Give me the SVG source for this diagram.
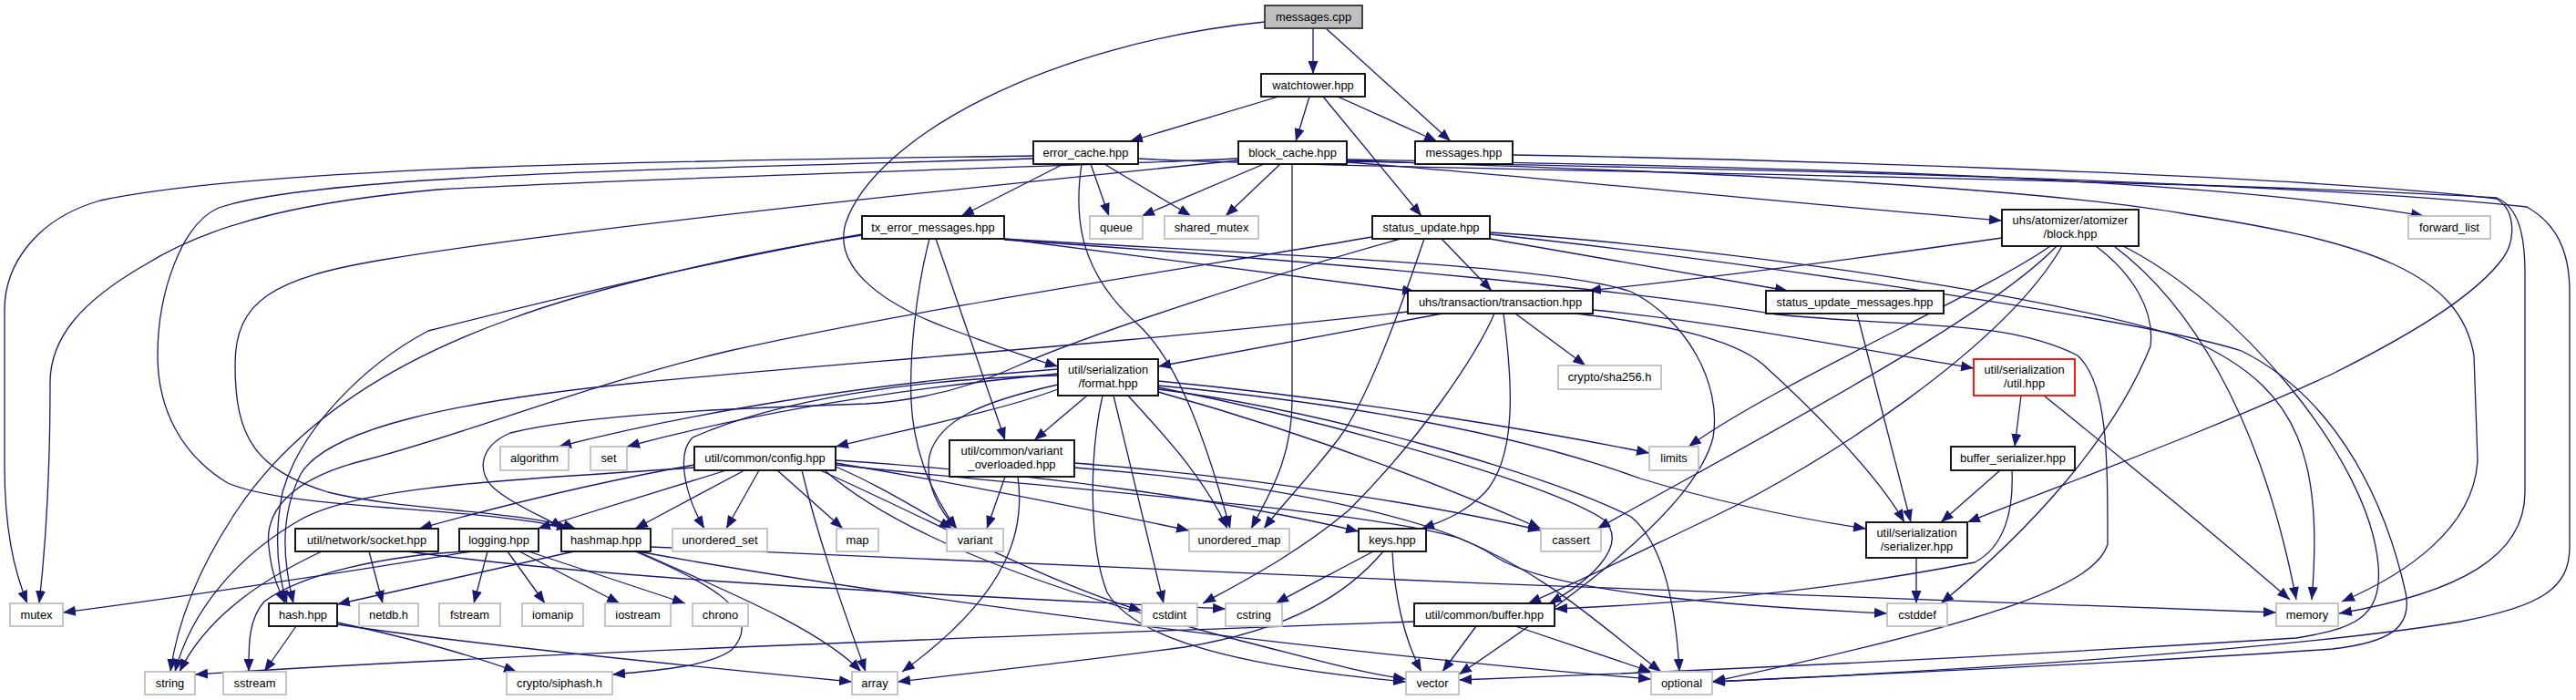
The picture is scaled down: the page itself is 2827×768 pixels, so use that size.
<svg xmlns="http://www.w3.org/2000/svg" width="2827" height="768" viewBox="0 0 2827 768">
<style>
.e{fill:none;stroke:#191970;stroke-width:1.3;marker-end:url(#ah)}
.n rect{fill:#fff;stroke:#000;stroke-width:1.8}
.s rect{fill:#fff;stroke:#bfbfbf;stroke-width:1.8}
.r rect{fill:#fff;stroke:#ff0000;stroke-width:1.8}
.root rect{fill:#bfbfbf;stroke:#333;stroke-width:1.8}
text{font-family:"Liberation Sans",Arial,sans-serif;font-size:12.9px;fill:#000;text-anchor:middle}
</style>
<defs>
<marker id="ah" viewBox="0 0 14 11" refX="14" refY="5.5" markerWidth="14" markerHeight="11" markerUnits="userSpaceOnUse" orient="auto">
<path d="M0,0 L14,5.5 L0,11 z" fill="#191970"/>
</marker>
</defs>
<rect width="2827" height="768" fill="#fff"/>
<g id="connectors">
<path class="e" d="M1441,31 L1441,81"/>
<path class="e" d="M1455,31 L1592,155"/>
<path class="e" d="M1388,24 C1150,48 960,150 928,245 C915,290 960,330 1040,360 C1090,378 1125,392 1161,402"/>
<path class="e" d="M1403,106 L1240,155"/>
<path class="e" d="M1437,106 L1422,155"/>
<path class="e" d="M1452,106 L1560,237"/>
<path class="e" d="M1468,106 L1577,155"/>
<path class="e" d="M1167,180 L1055,237"/>
<path class="e" d="M1197,180 L1217,237"/>
<path class="e" d="M1212,180 L1307,237"/>
<path class="e" d="M1187,180 C1178,240 1185,300 1250,357 C1290,395 1320,470 1350,580"/>
<path class="e" d="M1134,171 C800,176 300,180 110,220 C40,240 5,290 5,340 L5,510 C5,580 15,625 30,662"/>
<path class="e" d="M1134,174 C800,184 350,190 240,228 C200,245 173,320 173,390 C173,450 200,500 250,530 C320,560 520,555 625,580"/>
<path class="e" d="M1249,174 C1400,184 2400,195 2740,217 C2765,228 2771,260 2771,300 L2771,540 C2771,610 2700,650 2567,673"/>
<path class="e" d="M1387,180 L1253,237"/>
<path class="e" d="M1405,180 L1345,237"/>
<path class="e" d="M1418,180 L1418,440 C1418,500 1395,540 1373,580"/>
<path class="e" d="M1478,178 C1700,195 1950,222 2197,242"/>
<path class="e" d="M1478,175 C1900,182 2400,192 2660,237"/>
<path class="e" d="M1359,174 C1200,182 700,195 480,208 C350,220 240,240 160,290 C90,330 55,370 55,420 C55,520 50,600 43,662"/>
<path class="e" d="M1359,176 C1000,212 600,255 420,285 C300,305 258,330 258,400 C258,480 280,515 360,540 C440,560 570,560 632,580"/>
<path class="e" d="M1478,176 C1750,185 2200,200 2400,235 C2600,265 2700,300 2715,390 L2719,505 C2715,580 2640,630 2570,660"/>
<path class="e" d="M1478,177 C1900,185 2500,198 2773,227 C2805,245 2820,275 2820,320 L2820,600 C2820,645 2790,665 2700,682 C2500,715 2100,738 1879,748"/>
<path class="e" d="M1660,170 C1900,174 2500,190 2740,218 C2762,232 2760,265 2747,283 C2720,320 2660,360 2560,410 C2420,475 2280,525 2159,573"/>
<path class="e" d="M1582,262 L1637,319"/>
<path class="e" d="M1635,262 L1962,319"/>
<path class="e" d="M1563,262 C1540,330 1500,440 1470,480 C1440,520 1410,550 1387,580"/>
<path class="e" d="M1506,260 C1300,295 1000,340 800,385 C650,420 500,480 400,505 C320,525 290,560 295,600 C298,630 305,645 313,662"/>
<path class="e" d="M1537,262 C1400,300 1200,365 1120,400 C1060,428 1000,440 950,443 C800,448 640,455 560,475 C525,490 522,520 545,538 C570,558 600,568 618,580"/>
<path class="e" d="M1635,255 C1900,272 2300,330 2420,380 C2520,430 2550,500 2537,658"/>
<path class="e" d="M1635,257 C1900,285 2350,350 2460,385 C2570,440 2620,560 2640,650 C2648,690 2620,705 2560,712 C2300,730 2000,742 1879,748"/>
<path class="e" d="M1583,344 L1271,402"/>
<path class="e" d="M1640,344 C1620,390 1560,480 1480,560 C1420,610 1360,640 1320,662"/>
<path class="e" d="M1650,344 C1660,420 1665,500 1630,540 C1610,560 1590,570 1560,580"/>
<path class="e" d="M1663,344 L1740,401"/>
<path class="e" d="M1748,340 C1900,355 2050,385 2166,404"/>
<path class="e" d="M1730,344 C1820,355 1900,370 1935,400 C1990,450 2060,520 2090,573"/>
<path class="e" d="M1545,342 C1200,380 900,400 700,420 C500,440 360,470 330,520 C305,570 312,620 322,662"/>
<path class="e" d="M1507,605 C1470,625 1430,645 1400,662"/>
<path class="e" d="M1518,605 C1480,650 1420,690 1300,710 C1150,730 1050,740 985,748"/>
<path class="e" d="M1528,605 C1530,650 1540,700 1560,737"/>
<path class="e" d="M1620,687 L1583,737"/>
<path class="e" d="M1663,687 L1812,737"/>
<path class="e" d="M1552,682 C1200,695 600,715 214,740"/>
<path class="e" d="M1193,434 L1135,483"/>
<path class="e" d="M1161,422 C1080,440 1030,460 1020,500 C1015,530 1030,560 1050,580"/>
<path class="e" d="M1222,434 L1277,662"/>
<path class="e" d="M1210,434 C1195,500 1195,600 1215,650 C1250,710 1400,735 1543,748"/>
<path class="e" d="M1238,434 C1270,470 1320,520 1347,580"/>
<path class="e" d="M1271,430 C1450,480 1600,540 1691,580"/>
<path class="e" d="M1271,418 C1500,440 1700,475 1810,497"/>
<path class="e" d="M1271,423 C1450,440 1650,470 1800,525 C1900,555 1980,570 2048,580"/>
<path class="e" d="M1271,427 C1450,450 1700,520 1790,567 C1830,600 1840,680 1843,737"/>
<path class="e" d="M1271,425 C1450,460 1700,530 1760,570 C1790,600 1740,640 1700,662"/>
<path class="e" d="M1161,427 C1100,450 1000,470 917,490"/>
<path class="e" d="M1161,405 C950,420 750,455 613,490"/>
<path class="e" d="M1161,410 C950,430 800,460 688,490"/>
<path class="e" d="M1161,412 C1000,415 850,440 760,480 C740,500 755,550 773,580"/>
<path class="e" d="M1103,523 L1083,580"/>
<path class="e" d="M1117,523 C1125,580 1110,650 990,737"/>
<path class="e" d="M1179,508 C1400,525 1600,560 1691,582"/>
<path class="e" d="M1179,513 C1400,530 1580,570 1640,610 C1700,650 1900,665 2071,673"/>
<path class="e" d="M797,516 L590,580"/>
<path class="e" d="M817,516 L697,580"/>
<path class="e" d="M833,516 L797,580"/>
<path class="e" d="M853,516 L925,580"/>
<path class="e" d="M917,512 C960,530 1000,555 1045,580"/>
<path class="e" d="M917,508 C1050,530 1200,560 1305,582"/>
<path class="e" d="M917,505 C1150,520 1350,550 1491,583"/>
<path class="e" d="M762,510 C650,530 550,555 460,580"/>
<path class="e" d="M762,513 C600,525 400,530 330,570 C260,610 210,670 192,737"/>
<path class="e" d="M900,516 C1000,560 1150,640 1253,670"/>
<path class="e" d="M917,510 C1200,540 1500,560 1600,590 C1700,630 1760,690 1823,737"/>
<path class="e" d="M905,516 C1000,600 1200,660 1350,700 C1430,720 1490,738 1543,745"/>
<path class="e" d="M880,516 C900,600 930,680 950,737"/>
<path class="e" d="M405,605 L420,662"/>
<path class="e" d="M353,605 C300,630 230,670 197,737"/>
<path class="e" d="M447,605 C700,640 1100,655 1345,668"/>
<path class="e" d="M535,605 L520,662"/>
<path class="e" d="M557,605 L598,662"/>
<path class="e" d="M570,605 L680,662"/>
<path class="e" d="M580,605 L752,662"/>
<path class="e" d="M517,605 C400,625 200,655 69,672"/>
<path class="e" d="M510,605 C420,610 330,630 290,660 C272,680 273,710 273,737"/>
<path class="e" d="M630,605 L370,663"/>
<path class="e" d="M697,605 C780,640 840,673 803,713 C780,730 730,735 672,740"/>
<path class="e" d="M700,605 C800,650 900,690 945,737"/>
<path class="e" d="M714,600 C1200,625 2000,655 2498,672"/>
<path class="e" d="M700,605 C1000,660 1500,720 1812,745"/>
<path class="e" d="M325,687 L290,737"/>
<path class="e" d="M370,685 C500,705 800,735 935,748"/>
<path class="e" d="M370,683 C450,700 520,720 567,737"/>
<path class="e" d="M946,258 C800,280 640,320 560,350 C420,400 320,470 260,560 C220,620 195,680 187,737"/>
<path class="e" d="M946,257 C760,290 560,340 470,363 C400,400 330,470 310,540 C300,590 305,630 315,662"/>
<path class="e" d="M1020,262 C1005,320 998,390 1000,440 C1002,490 1020,540 1050,580"/>
<path class="e" d="M1027,262 L1103,483"/>
<path class="e" d="M1102,262 L1553,320"/>
<path class="e" d="M1102,262 C1400,280 1700,290 1790,320 C1850,350 1890,420 1880,480 C1860,560 1720,660 1601,740"/>
<path class="e" d="M1102,263 C1500,290 1800,320 1950,345 C2100,360 2200,350 2280,390 C2313,420 2313,500 2313,597 C2300,640 2200,680 1879,748"/>
<path class="e" d="M2197,261 C2050,282 1900,302 1743,319"/>
<path class="e" d="M2250,270 C2180,320 1950,420 1853,490"/>
<path class="e" d="M2257,270 C2180,350 1950,470 1753,580"/>
<path class="e" d="M2263,270 C2200,380 2000,510 1880,567 C1800,605 1740,635 1677,662"/>
<path class="e" d="M2300,270 C2340,300 2365,340 2360,380 C2320,480 2230,580 2130,662"/>
<path class="e" d="M2320,270 C2400,330 2480,450 2520,658"/>
<path class="e" d="M2330,270 C2450,330 2600,500 2610,620 C2615,680 2580,690 2520,700 C2200,720 1900,735 1601,746"/>
<path class="e" d="M2218,434 L2211,490"/>
<path class="e" d="M2243,434 C2300,480 2400,560 2513,658"/>
<path class="e" d="M2195,516 L2130,573"/>
<path class="e" d="M2208,516 C2210,560 2200,600 2167,617 C2050,640 1900,660 1706,668"/>
<path class="e" d="M2103,612 L2103,662"/>
<path class="e" d="M2038,344 L2097,573"/>
</g>
<g id="n_messages_cpp" class="root"><rect x="1388" y="6" width="107" height="25"/><text x="1441.5" y="22.5">messages.cpp</text></g>
<g id="n_watchtower" class="n"><rect x="1384" y="81" width="114" height="25"/><text x="1441" y="97.5">watchtower.hpp</text></g>
<g id="n_error_cache" class="n"><rect x="1134" y="155" width="115" height="25"/><text x="1191.5" y="171.5">error_cache.hpp</text></g>
<g id="n_block_cache" class="n"><rect x="1359" y="155" width="119" height="25"/><text x="1418.5" y="171.5">block_cache.hpp</text></g>
<g id="n_messages_hpp" class="n"><rect x="1553" y="155" width="107" height="25"/><text x="1606.5" y="171.5">messages.hpp</text></g>
<g id="n_tx_error_messages" class="n"><rect x="946" y="237" width="156" height="25"/><text x="1024" y="253.5">tx_error_messages.hpp</text></g>
<g id="n_queue" class="s"><rect x="1196" y="237" width="58" height="25"/><text x="1225" y="253.5">queue</text></g>
<g id="n_shared_mutex" class="s"><rect x="1278" y="237" width="103" height="25"/><text x="1329.5" y="253.5">shared_mutex</text></g>
<g id="n_status_update" class="n"><rect x="1506" y="237" width="129" height="25"/><text x="1570.5" y="253.5">status_update.hpp</text></g>
<g id="n_atomizer_block" class="n"><rect x="2197" y="230" width="150" height="40"/><text x="2272" y="245.5">uhs/atomizer/atomizer</text><text x="2272" y="260.5">/block.hpp</text></g>
<g id="n_forward_list" class="s"><rect x="2643" y="237" width="90" height="25"/><text x="2688" y="253.5">forward_list</text></g>
<g id="n_transaction" class="n"><rect x="1545" y="319" width="203" height="25"/><text x="1646.5" y="335.5">uhs/transaction/transaction.hpp</text></g>
<g id="n_status_update_messages" class="n"><rect x="1938" y="319" width="195" height="25"/><text x="2035.5" y="335.5">status_update_messages.hpp</text></g>
<g id="n_format" class="n"><rect x="1161" y="394" width="110" height="40"/><text x="1216" y="409.5">util/serialization</text><text x="1216" y="424.5">/format.hpp</text></g>
<g id="n_util" class="r"><rect x="2166" y="394" width="111" height="40"/><text x="2221.5" y="409.5">util/serialization</text><text x="2221.5" y="424.5">/util.hpp</text></g>
<g id="n_sha256" class="s"><rect x="1710" y="401" width="113" height="26"/><text x="1766.5" y="418">crypto/sha256.h</text></g>
<g id="n_algorithm" class="s"><rect x="549" y="490" width="75" height="26"/><text x="586.5" y="507">algorithm</text></g>
<g id="n_set" class="s"><rect x="648" y="490" width="40" height="26"/><text x="668" y="507">set</text></g>
<g id="n_config" class="n"><rect x="762" y="490" width="155" height="26"/><text x="839.5" y="507">util/common/config.hpp</text></g>
<g id="n_variant_overloaded" class="n"><rect x="1042" y="483" width="137" height="40"/><text x="1110.5" y="498.5">util/common/variant</text><text x="1110.5" y="513.5">_overloaded.hpp</text></g>
<g id="n_limits" class="s"><rect x="1810" y="490" width="54" height="26"/><text x="1837" y="507">limits</text></g>
<g id="n_buffer_serializer" class="n"><rect x="2141" y="490" width="136" height="26"/><text x="2209" y="507">buffer_serializer.hpp</text></g>
<g id="n_socket" class="n"><rect x="324" y="580" width="157" height="25"/><text x="402.5" y="596.5">util/network/socket.hpp</text></g>
<g id="n_logging" class="n"><rect x="504" y="580" width="87" height="25"/><text x="547.5" y="596.5">logging.hpp</text></g>
<g id="n_hashmap" class="n"><rect x="616" y="580" width="98" height="25"/><text x="665" y="596.5">hashmap.hpp</text></g>
<g id="n_unordered_set" class="s"><rect x="738" y="580" width="104" height="25"/><text x="790" y="596.5">unordered_set</text></g>
<g id="n_map" class="s"><rect x="918" y="580" width="46" height="25"/><text x="941" y="596.5">map</text></g>
<g id="n_variant" class="s"><rect x="1039" y="580" width="62" height="25"/><text x="1070" y="596.5">variant</text></g>
<g id="n_unordered_map" class="s"><rect x="1305" y="580" width="110" height="25"/><text x="1360" y="596.5">unordered_map</text></g>
<g id="n_keys" class="n"><rect x="1491" y="580" width="74" height="25"/><text x="1528" y="596.5">keys.hpp</text></g>
<g id="n_cassert" class="s"><rect x="1691" y="580" width="66" height="25"/><text x="1724" y="596.5">cassert</text></g>
<g id="n_serializer" class="n"><rect x="2048" y="573" width="111" height="39"/><text x="2103.5" y="588.5">util/serialization</text><text x="2103.5" y="603.5">/serializer.hpp</text></g>
<g id="n_mutex" class="s"><rect x="11" y="662" width="58" height="25"/><text x="40" y="678.5">mutex</text></g>
<g id="n_hash" class="n"><rect x="295" y="662" width="75" height="25"/><text x="332.5" y="678.5">hash.hpp</text></g>
<g id="n_netdb" class="s"><rect x="394" y="662" width="65" height="25"/><text x="426.5" y="678.5">netdb.h</text></g>
<g id="n_fstream" class="s"><rect x="482" y="662" width="67" height="25"/><text x="515.5" y="678.5">fstream</text></g>
<g id="n_iomanip" class="s"><rect x="573" y="662" width="67" height="25"/><text x="606.5" y="678.5">iomanip</text></g>
<g id="n_iostream" class="s"><rect x="664" y="662" width="72" height="25"/><text x="700" y="678.5">iostream</text></g>
<g id="n_chrono" class="s"><rect x="760" y="662" width="61" height="25"/><text x="790.5" y="678.5">chrono</text></g>
<g id="n_cstdint" class="s"><rect x="1253" y="662" width="61" height="25"/><text x="1283.5" y="678.5">cstdint</text></g>
<g id="n_cstring" class="s"><rect x="1345" y="662" width="62" height="25"/><text x="1376" y="678.5">cstring</text></g>
<g id="n_buffer" class="n"><rect x="1552" y="662" width="154" height="25"/><text x="1629" y="678.5">util/common/buffer.hpp</text></g>
<g id="n_cstddef" class="s"><rect x="2071" y="662" width="66" height="25"/><text x="2104" y="678.5">cstddef</text></g>
<g id="n_memory" class="s"><rect x="2498" y="662" width="68" height="25"/><text x="2532" y="678.5">memory</text></g>
<g id="n_string" class="s"><rect x="159" y="737" width="55" height="25"/><text x="186.5" y="753.5">string</text></g>
<g id="n_sstream" class="s"><rect x="245" y="737" width="69" height="25"/><text x="279.5" y="753.5">sstream</text></g>
<g id="n_siphash" class="s"><rect x="556" y="737" width="116" height="25"/><text x="614" y="753.5">crypto/siphash.h</text></g>
<g id="n_array" class="s"><rect x="935" y="737" width="50" height="25"/><text x="960" y="753.5">array</text></g>
<g id="n_vector" class="s"><rect x="1543" y="737" width="58" height="25"/><text x="1572" y="753.5">vector</text></g>
<g id="n_optional" class="s"><rect x="1812" y="737" width="67" height="25"/><text x="1845.5" y="753.5">optional</text></g>
</svg>
